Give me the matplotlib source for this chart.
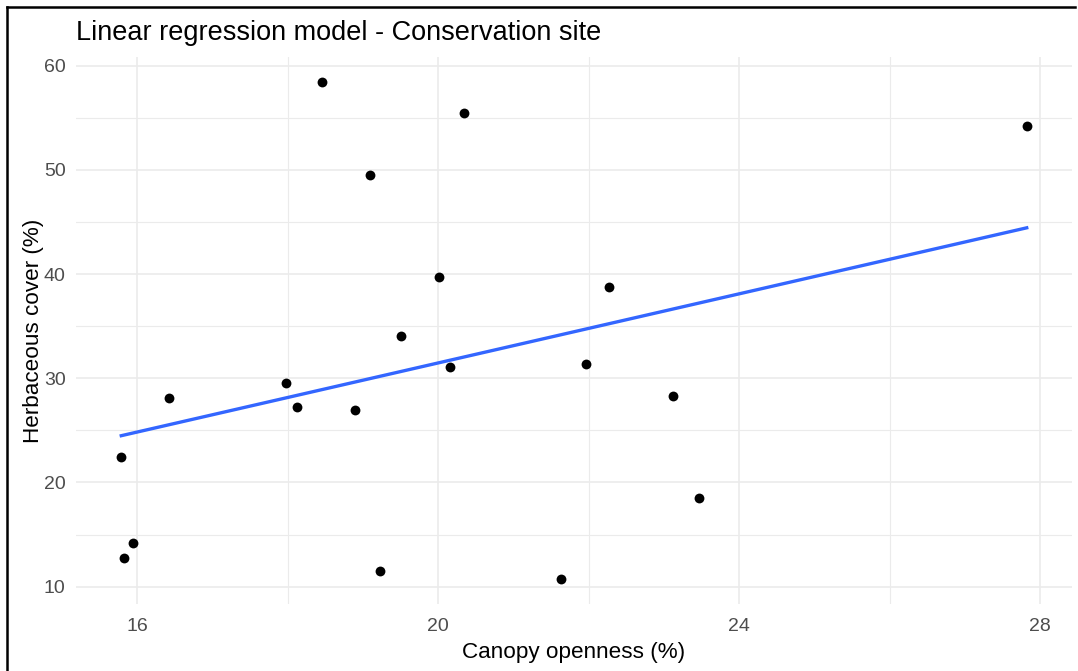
import numpy as np
import matplotlib
matplotlib.use("Agg")
import matplotlib.pyplot as plt
from matplotlib.lines import Line2D

plt.rcParams['font.family'] = ['Liberation Sans', 'DejaVu Sans']

canopy = [18.46, 20.35, 27.82, 19.09, 20.01, 22.27, 19.50, 20.16, 21.97, 17.98,
          16.42, 23.12, 18.12, 18.89, 15.79, 23.47, 15.95, 15.82, 19.23, 21.63]
herb = [58.46, 55.49, 54.24, 49.53, 39.73, 38.77, 34.06, 31.08, 31.37, 29.55,
        28.11, 28.30, 27.24, 26.95, 22.44, 18.50, 14.18, 12.74, 11.49, 10.72]
x_ticks = [16, 20, 24, 28]
y_ticks = [10, 20, 30, 40, 50, 60]
x_minor = [18, 22, 26]
y_minor = [15, 25, 35, 45, 55]

x = np.array(canopy)
y = np.array(herb)

fig = plt.figure(figsize=(10.78, 6.71), dpi=100)
ax = fig.add_axes([76/1078, 1 - 604/671, (1072-76)/1078, (604-57)/671])

xr = x.max() - x.min()
yr = y.max() - y.min()
ax.set_xlim(x.min() - 0.05*xr, x.max() + 0.05*xr)
ax.set_ylim(y.min() - 0.05*yr, y.max() + 0.05*yr)

grid_c = '#EBEBEB'
for v in x_minor:
    ax.axvline(v, color=grid_c, lw=0.8, zorder=0)
for v in y_minor:
    ax.axhline(v, color=grid_c, lw=0.8, zorder=0)
for v in x_ticks:
    ax.axvline(v, color=grid_c, lw=1.2, zorder=0)
for v in y_ticks:
    ax.axhline(v, color=grid_c, lw=1.2, zorder=0)

slope, intercept = np.polyfit(x, y, 1)
xs = np.linspace(x.min(), x.max(), 80)
ax.plot(xs, intercept + slope*xs, color='#3366FF', lw=2.4, zorder=2)
ax.scatter(x, y, s=50, color='black', zorder=3, linewidths=0)

ax.set_xticks(x_ticks)
ax.set_yticks(y_ticks)
ax.tick_params(axis='x', length=0, labelsize=14, labelcolor='#4D4D4D', pad=10)
ax.tick_params(axis='y', length=0, labelsize=14, labelcolor='#4D4D4D', pad=7.5)
for s in ax.spines.values():
    s.set_visible(False)

ax.set_xlabel('Canopy openness (%)', fontsize=16.2, color='black', labelpad=5)
ax.set_ylabel('Herbaceous cover (%)', fontsize=16.2, color='black', labelpad=0)
fig.text(76/1078, 1 - 33/671, 'Linear regression model - Conservation site',
         fontsize=19.5, ha='left', va='center', color='black')

# screenshot frame (left and top edges)
fig.add_artist(Line2D([6.5/1078, 6.5/1078], [0, 1 - 6.5/671], transform=fig.transFigure, color='black', lw=1.8))
fig.add_artist(Line2D([6.5/1078, 1075/1078], [1 - 6.5/671, 1 - 6.5/671], transform=fig.transFigure, color='black', lw=1.8))

fig.savefig('out.png', dpi=100)
